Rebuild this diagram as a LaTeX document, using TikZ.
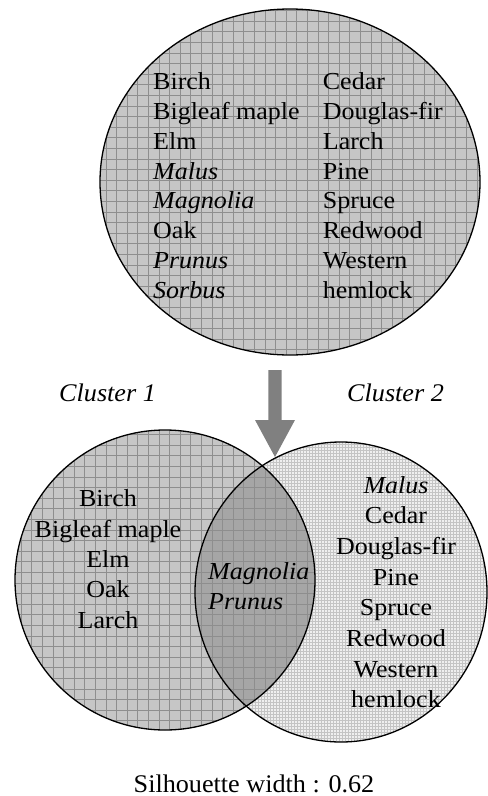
\documentclass[tikz,border=0pt]{standalone}
\usepackage{fontspec}
\setmainfont{Liberation Serif}
\newfontfamily\treefont[FakeStretch=1.065]{Liberation Serif}
\newfontfamily\labfont[FakeStretch=1.03]{Liberation Serif}
\definecolor{fillA}{HTML}{C6C6C6}
\definecolor{fillB}{HTML}{EFEFEF}
\definecolor{fillAB}{HTML}{A6A6A6}
\definecolor{gridA}{HTML}{8E8E8E}
\definecolor{gridB}{HTML}{C4C4C4}
\definecolor{arrowgray}{HTML}{808080}
\begin{document}
\begin{tikzpicture}[x=1bp,y=-1bp,
  tree/.style={font=\treefont\fontsize{24.5}{29}\selectfont, inner sep=0pt},
  lab/.style={font=\labfont\fontsize{25.5}{30}\selectfont, inner sep=0pt},
  outline/.style={draw=black, line width=1.3bp},
  coarsegrid/.style={draw=gridA, line width=0.8bp, step=10.6bp},
  finegrid/.style={draw=gridB, line width=0.45bp, step=3bp}]
\useasboundingbox (0,0) rectangle (488,796);

% ---------- top ellipse ----------
\begin{scope}
  \clip (290,182) ellipse [x radius=190bp, y radius=173bp];
  \fill[fillA] (0,0) rectangle (488,400);
  \draw[coarsegrid] (0,0) grid (488,400);
\end{scope}
\draw[outline] (290,182) ellipse [x radius=190bp, y radius=173bp];

\foreach \t [count=\i] in {Birch, Bigleaf maple, Elm, \textit{Malus}, \textit{Magnolia}, Oak, \textit{Prunus}, \textit{Sorbus}}
  \node[tree, anchor=base west] (tl\i) at (153, {89.3+29.9*(\i-1)}) {\t};
\foreach \t [count=\i] in {Cedar, Douglas-fir, Larch, Pine, Spruce, Redwood, Western, hemlock}
  \node[tree, anchor=base west] (tr\i) at (322.7, {89.3+29.9*(\i-1)}) {\t};

% ---------- arrow ----------
\coordinate (a1) at (268.3,370);
\coordinate (a2) at (281.7,370);
\coordinate (a3) at (281.7,420);
\coordinate (a4) at (295,420);
\coordinate (tip) at (275,457);
\coordinate (a6) at (255,420);
\coordinate (a7) at (268.3,420);
\fill[arrowgray] (a1) -- (a2) -- (a3) -- (a4) -- (tip) -- (a6) -- (a7) -- cycle;

% ---------- cluster labels ----------
\node[lab, anchor=base west] (c1) at (59,401) {\itshape Cluster 1};
\node[lab, anchor=base west] (c2) at (347,401) {\itshape Cluster 2};

% ---------- bottom circles ----------
\begin{scope}
  \clip (341,592) ellipse [x radius=146bp, y radius=150bp];
  \fill[fillB] (180,430) rectangle (488,750);
  \draw[finegrid] (180,430) grid (488,750);
\end{scope}
\begin{scope}
  \clip (165,580) circle [radius=150bp];
  \fill[fillA] (0,420) rectangle (330,740);
  \draw[coarsegrid] (0,420) grid (330,740);
\end{scope}
\begin{scope}
  \clip (165,580) circle [radius=150bp];
  \clip (341,592) ellipse [x radius=146bp, y radius=150bp];
  \fill[fillAB] (180,420) rectangle (330,740);
  \draw[coarsegrid] (180,420) grid (330,740);
\end{scope}
\draw[outline] (165,580) circle [radius=150bp];
\draw[outline] (341,592) ellipse [x radius=146bp, y radius=150bp];

\foreach \t [count=\i] in {Birch, Bigleaf maple, Elm, Oak, Larch}
  \node[tree, anchor=base] (bl\i) at (108, {506.7+30.4*(\i-1)}) {\t};
\node[tree, anchor=base west] (m1) at (208,579) {\textit{Magnolia}};
\node[tree, anchor=base west] (m2) at (208,609) {\textit{Prunus}};
\foreach \t [count=\i] in {\textit{Malus}, Cedar, Douglas-fir, Pine, Spruce, Redwood, Western, hemlock}
  \node[tree, anchor=base] (br\i) at (396, {493+30.7*(\i-1)}) {\t};

% ---------- silhouette ----------
\node[lab, anchor=base] (sil) at (254,792) {Silhouette width : 0.62};
\end{tikzpicture}
\end{document}
